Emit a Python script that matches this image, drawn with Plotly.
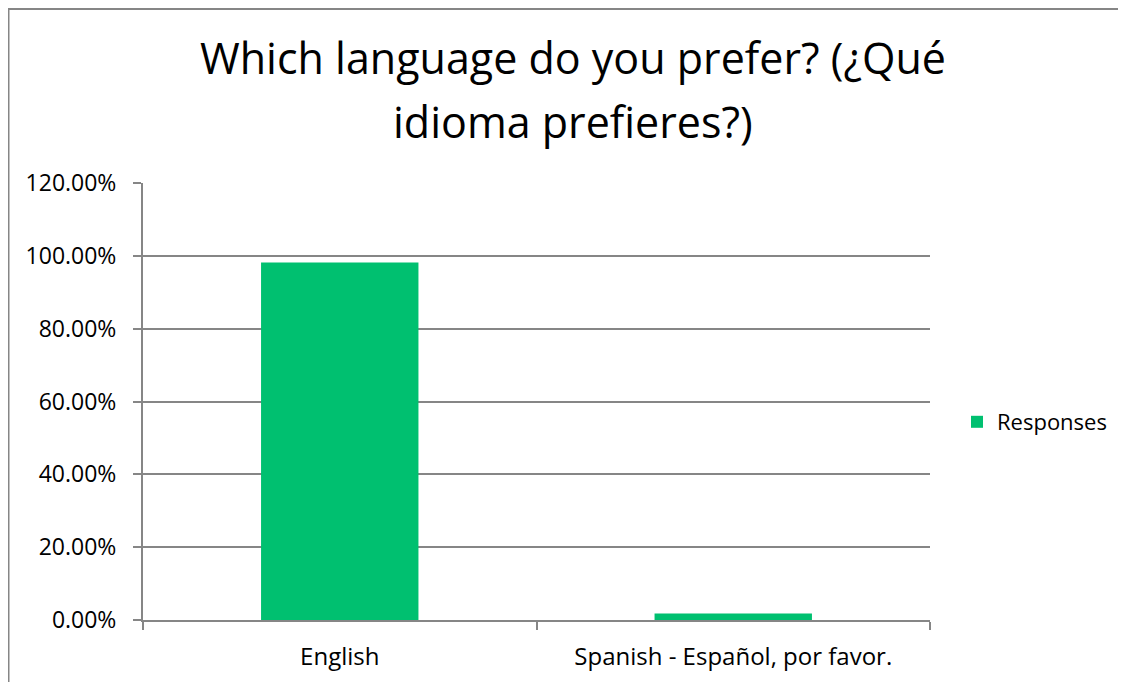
import plotly.graph_objects as go

categories = ["English", "Spanish - Español, por favor."]
responses = [98.2, 1.8]
series_name = "Responses"
title_lines = ["Which language do you prefer? (¿Qué", "idioma prefieres?)"]

FONT = "'Open Sans', 'Noto Sans', sans-serif"
GRAY = "#868686"
GREEN = "#00C070"

fig = go.Figure()
fig.add_trace(go.Bar(
    x=categories, y=responses, name=series_name,
    marker=dict(color=GREEN, line=dict(width=0)),
    showlegend=True,
))

# page body has an 8px margin, so figure coords = window coords - 8
W, H = 1126, 682
L, R, T, B = 135, 922, 175, 612
PH = B - T
PW = R - L

def px(xf):
    return (xf - L) / PW

def py(yf):
    return (B - yf) / PH

fig.update_layout(
    width=W, height=H,
    margin=dict(l=L, r=W - R, t=T, b=H - B, pad=0),
    paper_bgcolor="white", plot_bgcolor="white",
    font=dict(family=FONT, size=22, color="black"),
    bargap=0.6,
    showlegend=True,
    legend=dict(x=px(949), y=py(414), xanchor="left", yanchor="middle",
                font=dict(size=22), bgcolor="rgba(0,0,0,0)"),
    xaxis=dict(showgrid=False, showline=True, linecolor=GRAY, linewidth=2,
               ticks="outside", tickson="boundaries", ticklen=8, tickcolor=GRAY, tickwidth=2,
               tickfont=dict(size=24), ticklabelstandoff=14),
    yaxis=dict(range=[0, 120], dtick=20, tick0=0, tickformat=".2f", ticksuffix="%",
               showgrid=True, gridcolor=GRAY, gridwidth=2,
               showline=True, linecolor=GRAY, linewidth=2,
               ticks="outside", ticklen=8, tickcolor=GRAY, tickwidth=2,
               tickfont=dict(size=23), ticklabelstandoff=12, zeroline=False),
)

# two-line title (separate lines to reproduce the wide line spacing)
for line, yc in zip(title_lines, [50, 113]):
    fig.add_annotation(text=line, xref="paper", yref="paper", x=px(565), y=py(yc),
                       xanchor="center", yanchor="middle", showarrow=False,
                       font=dict(size=43, family=FONT, color="black"))

# chart-area border (extends past the right and bottom edges of the window)
fig.add_shape(type="rect", xref="paper", yref="paper",
              x0=px(0), x1=px(1300), y0=py(800), y1=py(0.5),
              line=dict(color=GRAY, width=3), fillcolor="rgba(0,0,0,0)", layer="above")

fig.write_html("out.html")
